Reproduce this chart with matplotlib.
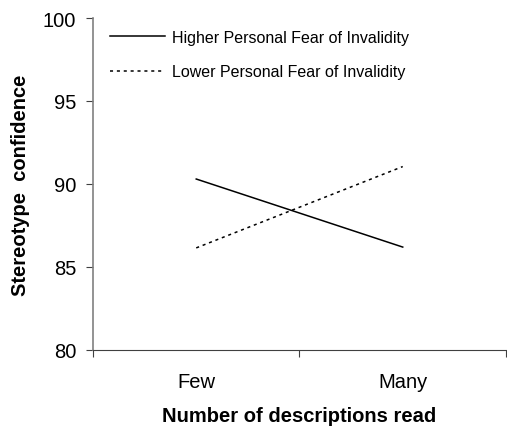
import matplotlib
matplotlib.use('Agg')
import matplotlib.pyplot as plt

categories = ['Few', 'Many']
higher_fear = [90.3, 86.2]
lower_fear = [86.15, 91.05]
y_ticks = [80, 85, 90, 95, 100]

plt.rcParams['font.family'] = ['Liberation Sans', 'DejaVu Sans']

fig = plt.figure(figsize=(5.07, 4.27), dpi=100)
ax = fig.add_axes([0.1834, 0.178, 0.8146, 0.7775])

xpos = [0.5, 1.5]
ax.plot(xpos, higher_fear, color='black', lw=1.1, label='Higher Personal Fear of Invalidity')
ax.plot(xpos, lower_fear, color='black', lw=1.1, linestyle=(0, (2, 2.5)),
        label='Lower Personal Fear of Invalidity')

ax.set_xlim(0, 2)
ax.set_ylim(80, 100)
ax.set_yticks(y_ticks)
ax.set_xticks([0, 1, 2])
ax.set_xticklabels([])
ax.set_xticks(xpos, minor=True)
ax.set_xticklabels(categories, minor=True)
ax.tick_params(axis='x', which='minor', length=0, pad=16, labelsize=14.5)
ax.tick_params(axis='x', which='major', length=5, direction='out', color='#404040')
ax.tick_params(axis='y', length=5, direction='out', labelsize=14.5, pad=7, color='#404040')

for s in ['top', 'right']:
    ax.spines[s].set_visible(False)
ax.spines['left'].set_color('#808080')
ax.spines['left'].set_linewidth(1.2)
ax.spines['bottom'].set_color('#404040')

ax.set_ylabel('Stereotype  confidence', fontsize=14.5, fontweight='bold', labelpad=9)
ax.set_xlabel('Number of descriptions read', fontsize=14.5, fontweight='bold', labelpad=11)

ax.legend(loc='upper left', bbox_to_anchor=(0.007, 1.007), frameon=False, fontsize=11.5,
          handlelength=3.45, handletextpad=0.44, labelspacing=1.2)

fig.savefig('out.png', dpi=100)
